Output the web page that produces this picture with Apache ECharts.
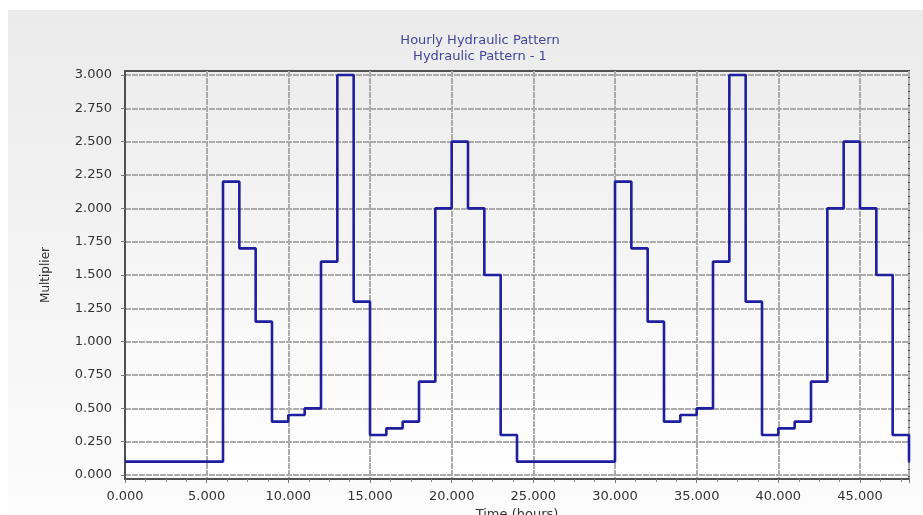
<!DOCTYPE html>
<html>
<head>
<meta charset="utf-8">
<script src="https://cdn.jsdelivr.net/npm/echarts@6/dist/echarts.min.js"></script>
<style>
html,body{margin:0;padding:0;background:#ffffff;}
#chart{width:923px;height:515px;
background:linear-gradient(to bottom,#ebebeb,#fcfcfc) no-repeat;
background-position:8px 10px;background-size:915px 505px;}
</style>
</head>
<body>
<div id="chart"></div>
<script>
const titleLines = ['Hourly Hydraulic Pattern', 'Hydraulic Pattern - 1'];
const hours = [0,1,2,3,4,5,6,7,8,9,10,11,12,13,14,15,16,17,18,19,20,21,22,23,
               24,25,26,27,28,29,30,31,32,33,34,35,36,37,38,39,40,41,42,43,44,45,46,47,48];
const multiplier = [0.10,0.10,0.10,0.10,0.10,0.10,2.20,1.70,1.15,0.40,0.45,0.50,1.60,3.00,1.30,0.30,0.35,0.40,0.70,2.00,2.50,2.00,1.50,0.30,
                    0.10,0.10,0.10,0.10,0.10,0.10,2.20,1.70,1.15,0.40,0.45,0.50,1.60,3.00,1.30,0.30,0.35,0.40,0.70,2.00,2.50,2.00,1.50,0.30,
                    0.10];
const yTicks = [0,0.25,0.5,0.75,1.0,1.25,1.5,1.75,2.0,2.25,2.5,2.75,3.0];

const chart = echarts.init(document.getElementById('chart'));
const gridLine = {show:true, lineStyle:{color:'#ababab', width:2, type:[6,1]}};
chart.setOption({
  animation:false,
  backgroundColor:'transparent',
  textStyle:{fontFamily:'DejaVu Sans'},
  title:{
    text: titleLines.join('\n'),
    left: 475, top: 28, textAlign:'center',
    textStyle:{color:'#45459a', fontSize:13, fontWeight:'normal', lineHeight:16, fontFamily:'DejaVu Sans'}
  },
  grid:{
    left:125, right:14, top:71, bottom:36,
    outerBoundsMode:'none', containLabel:false,
    show:true, borderColor:'#505050', borderWidth:2,
    backgroundColor:{type:'linear',x:0,y:0,x2:0,y2:1,colorStops:[{offset:0,color:'#ededed'},{offset:1,color:'#ffffff'}]}
  },
  xAxis:{
    type:'value', min:0, max:48, interval:5,
    name:'Time (hours)', nameLocation:'middle', nameGap:25,
    nameTextStyle:{color:'#333', fontSize:13, fontFamily:'DejaVu Sans'},
    axisLine:{show:true, onZero:false, lineStyle:{color:'#505050', width:2}},
    axisTick:{show:true, length:4, lineStyle:{color:'#777'}},
    minorTick:{show:true, splitNumber:4, length:3, lineStyle:{color:'#888'}},
    axisLabel:{color:'#333', fontSize:13, margin:11, showMaxLabel:false,
      formatter:function(v){return v.toFixed(3);}},
    splitLine:gridLine
  },
  yAxis:{
    type:'value', min:-0.03, max:3.03,
    name:'Multiplier', nameLocation:'middle', nameGap:73, nameRotate:90,
    nameTextStyle:{color:'#333', fontSize:12, fontFamily:'DejaVu Sans'},
    axisLine:{show:true, lineStyle:{color:'#505050', width:2}},
    axisTick:{show:true, length:4, customValues:yTicks, lineStyle:{color:'#777'}},
    axisLabel:{color:'#333', fontSize:13, margin:13, customValues:yTicks,
      formatter:function(v){return Number(v).toFixed(3);}},
    splitLine:gridLine
  },
  series:[{
    type:'line', step:'end', symbol:'none',
    data: hours.map(function(h,i){return [h, multiplier[i]];}),
    lineStyle:{color:'#1e1e9e', width:2.6},
    z:5
  }]
});
</script>
</body>
</html>
